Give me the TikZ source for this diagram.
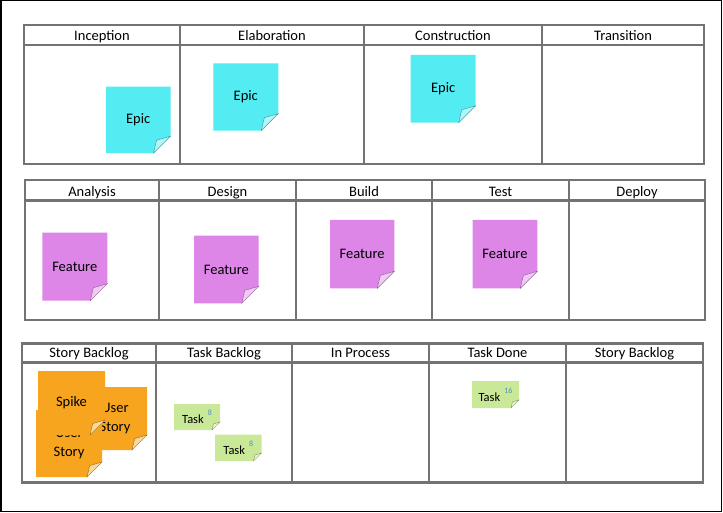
\documentclass[tikz,border=0pt]{standalone}
\usepackage{fontspec}
\setmainfont{Carlito}
\usetikzlibrary{calc}

\definecolor{epiccyan}{RGB}{82,236,242}
\definecolor{featurepink}{RGB}{221,134,231}
\definecolor{storyorange}{RGB}{247,165,30}
\definecolor{taskgreen}{RGB}{202,233,152}
\definecolor{pointblue}{RGB}{90,140,185}
\definecolor{boardgray}{RGB}{115,115,115}

\newcommand{\tasksize}{\fontsize{12.5}{14}\selectfont}
\newcommand{\points}[1]{\hspace{4pt}\raisebox{8pt}{\fontsize{8}{8}\selectfont\color{pointblue}#1}}

% name, colour, top left x/y, width, height, fold size, text
\newcommand{\stickynote}[8]{%
  \fill[#2] (#3,#4) -- (#3+#5,#4) -- (#3+#5,#4+#6-#7) -- (#3+#5-#7,#4+#6) -- (#3,#4+#6) -- cycle;
  \filldraw[fill=#2!45!white,draw=#2!55!black,line width=0.3pt]
    (#3+#5,#4+#6-#7) .. controls (#3+#5-0.45*#7,#4+#6-0.9*#7) .. (#3+#5-0.82*#7,#4+#6-0.76*#7)
    -- (#3+#5-#7,#4+#6) -- cycle;
  \node[notetext] (#1) at (#3+#5/2,#4+#6/2) {#8};
}

\begin{document}
\begin{tikzpicture}[x=1pt,y=-1pt,
  board/.style={draw=boardgray,line width=2.1pt},
  head/.style={anchor=base,inner sep=0pt,font=\fontsize{14.5}{16}\selectfont},
  notetext/.style={align=center,inner sep=0pt,font=\fontsize{14.5}{19}\selectfont}]
  \useasboundingbox (0,0) rectangle (723,513);
  \draw[line width=1.5pt] (0.75,0.75) rectangle (721.5,511.5);

  % phases
  \draw[board] (24,25) rectangle (704,164);
  \draw[board] (24,45) -- (704,45);
  \foreach \xa/\xb/\lbl [count=\i] in {24/180/Inception,180/364/Elaboration,364/542/Construction,542/704/Transition} {
    \draw[board] (\xb,25) -- (\xb,164);
    \node[head] (phase\i) at ({(\xa+\xb)/2},40.5) {\lbl};
  }

  % activities
  \draw[board] (25,180) rectangle (705,320);
  \draw[board] (25,200.5) -- (705,200.5);
  \foreach \xa/\xb/\lbl [count=\i] in {25/159/Analysis,159/296/Design,296/432/Build,432/569/Test,569/705/Deploy} {
    \draw[board] (\xb,180) -- (\xb,320);
    \node[head] (step\i) at ({(\xa+\xb)/2},196.5) {\lbl};
  }

  % task board
  \draw[board] (22,343.5) rectangle (703,482.5);
  \draw[board] (22,362.5) -- (703,362.5);
  \foreach \xa/\xb/\lbl [count=\i] in {22/156/Story Backlog,156/292/Task Backlog,292/429/In Process,429/566/Task Done,566/703/Story Backlog} {
    \draw[board] (\xb,343.5) -- (\xb,482.5);
    \node[head] (lane\i) at ({(\xa+\xb)/2},357.5) {\lbl};
  }

  \stickynote{epic1}{epiccyan}{106}{86.7}{64.5}{66.5}{17}{Epic}
  \stickynote{epic2}{epiccyan}{213.3}{63.3}{65}{67.3}{17}{Epic}
  \stickynote{epic3}{epiccyan}{410.7}{55}{65}{67.7}{17}{Epic}

  \stickynote{feature1}{featurepink}{42.3}{232.7}{65}{68}{17}{Feature}
  \stickynote{feature2}{featurepink}{194}{235.7}{64.7}{67.6}{17}{Feature}
  \stickynote{feature3}{featurepink}{330}{220}{64.3}{68.3}{17}{Feature}
  \stickynote{feature4}{featurepink}{472.7}{220}{64.6}{68.3}{17}{Feature}

  \stickynote{story2}{storyorange}{83}{387}{64}{63}{15}{User\\Story}
  \stickynote{story1}{storyorange}{36}{410}{66}{67}{15}{User\\Story}
  \stickynote{spike}{storyorange}{38}{371}{67}{64}{15}{Spike}

  \stickynote{task1}{taskgreen}{174}{404}{46}{26}{8}{\tasksize Task\points{8}}
  \stickynote{task2}{taskgreen}{215}{434.5}{46.5}{26.5}{8}{\tasksize Task\points{8}}
  \stickynote{task3}{taskgreen}{472}{381}{47}{27}{8}{\tasksize Task\points{16}}
\end{tikzpicture}
\end{document}
